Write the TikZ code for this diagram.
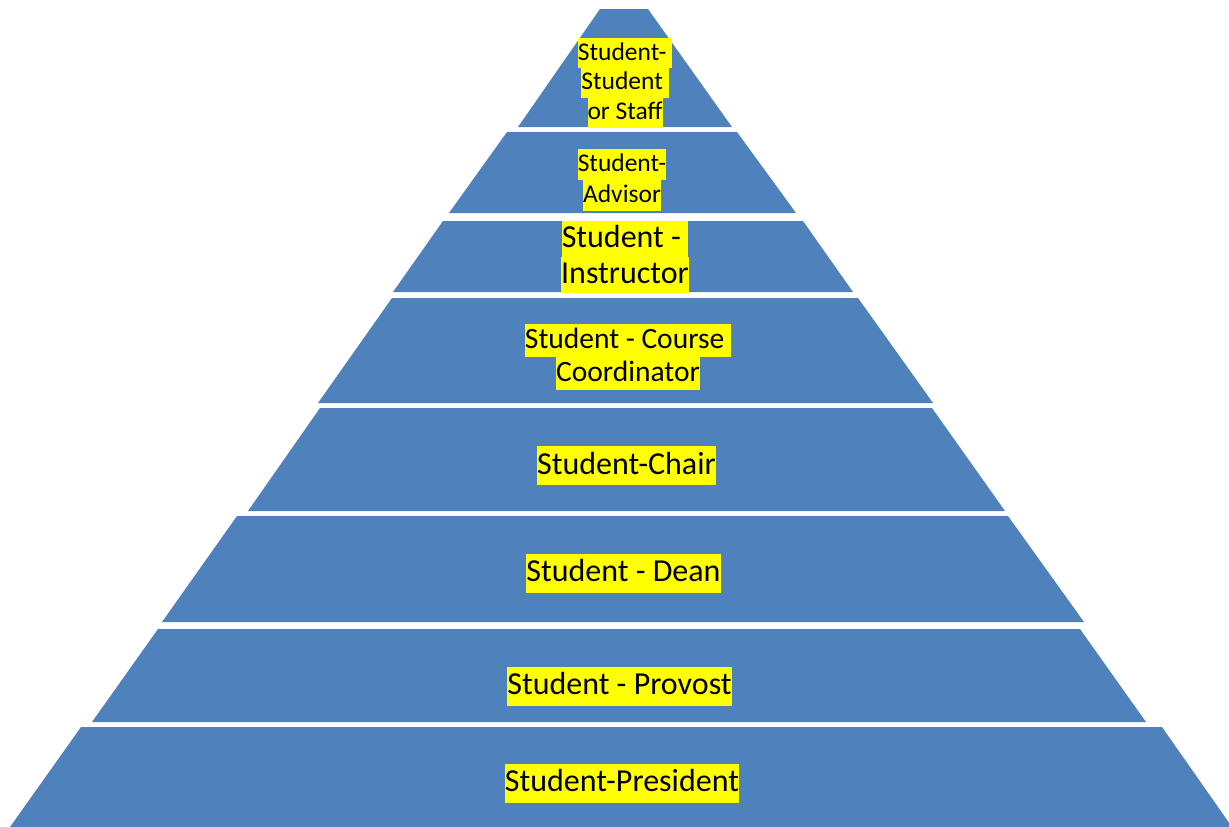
\documentclass[tikz,border=0pt]{standalone}
\usepackage{fontspec}
\setmainfont{Carlito}
\definecolor{pyrblue}{HTML}{4F81BD}
\definecolor{hlyellow}{HTML}{FFFF00}
\newcommand{\hlt}[1]{{\setlength{\fboxsep}{0pt}\colorbox{hlyellow}{\rule[-0.27\baselineskip]{0pt}{\baselineskip}#1}}}
\begin{document}
\begin{tikzpicture}[x=1pt,y=-1pt,
  layer/.style={fill=pyrblue},
  lbl/.style={align=center, inner sep=0pt, text=black}]
\useasboundingbox (0,0) rectangle (1229,827);
\fill[layer] (600,9) -- (648,9) -- (732,127) -- (518,127) -- cycle;
\fill[layer] (507,132) -- (737,132) -- (796,213) -- (449,213) -- cycle;
\fill[layer] (443,221) -- (803,221) -- (853,292) -- (393,292) -- cycle;
\fill[layer] (392,298) -- (858,298) -- (933,403) -- (318,403) -- cycle;
\fill[layer] (320,408) -- (932,408) -- (1005,511) -- (248,511) -- cycle;
\fill[layer] (237,516) -- (1008,516) -- (1084,622) -- (162,622) -- cycle;
\fill[layer] (158,629) -- (1080,629) -- (1146,722) -- (92,722) -- cycle;
\fill[layer] (81,727) -- (1162,727) -- (1232,827) -- (10,827) -- cycle;

\node[lbl, font=\fontsize{25.5}{29.7}\selectfont] (t1) at (625,83) {\hlt{Student-\ }\\\hlt{Student\ }\\\hlt{or Staff}};
\node[lbl, font=\fontsize{25.5}{31}\selectfont] (t2) at (622,180) {\hlt{Student-}\\\hlt{Advisor}};
\node[lbl, font=\fontsize{32}{36}\selectfont] (t3) at (625,257) {\hlt{Student -\ }\\\hlt{Instructor}};
\node[lbl, font=\fontsize{29.5}{33}\selectfont] (t4) at (628,357) {\hlt{Student - Course\ }\\\hlt{Coordinator}};
\node[lbl, font=\fontsize{32}{39}\selectfont] (t5) at (626.5,465.5) {\hlt{Student-Chair}};
\node[lbl, font=\fontsize{32}{39}\selectfont] (t6) at (623.5,573) {\hlt{Student - Dean}};
\node[lbl, font=\fontsize{32}{39}\selectfont] (t7) at (619.5,686) {\hlt{Student - Provost}};
\node[lbl, font=\fontsize{32}{39}\selectfont] (t8) at (622,783) {\hlt{Student-President}};
\end{tikzpicture}
\end{document}
